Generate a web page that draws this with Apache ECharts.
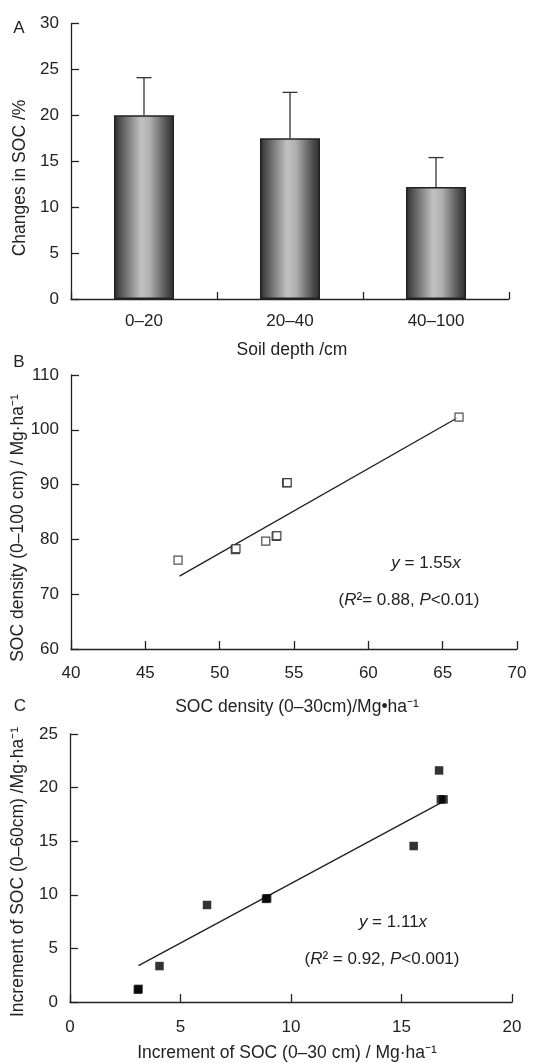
<!DOCTYPE html>
<html>
<head>
<meta charset="utf-8">
<script src="https://cdn.jsdelivr.net/npm/echarts@6/dist/echarts.min.js"></script>
<style>
html,body{margin:0;padding:0;background:#fff;}
#chart{width:551px;height:1063px;}
</style>
</head>
<body>
<div id="chart"></div>
<script>
// ---- Data ----
var depthCats = ['0–20', '20–40', '40–100'];
var socChange = [20.0, 17.5, 12.2];
var socChangeErr = [4.1, 5.0, 3.2];

var densityPoints = [
  [47.2, 76.2], [51.05, 78.15], [51.1, 78.3], [53.1, 79.7], [53.8, 80.55],
  [53.85, 80.7], [54.5, 90.3], [54.55, 90.35], [66.1, 102.3]
];
var densityFit = [[47.3, 73.3], [66.0, 102.2]];

var incrementPoints = [
  [3.07, 1.15], [3.1, 1.22], [4.05, 3.35], [6.2, 9.05], [8.87, 9.62],
  [8.92, 9.68], [15.55, 14.55], [16.7, 21.6], [16.78, 18.9], [16.9, 18.9]
];
var incrementFit = [[3.1, 3.4], [16.8, 18.6]];

// ---- Style ----
var FONT = "'Liberation Sans', Arial, sans-serif";
var INK = '#222';
var FS = 17;

function valueAxis(gridIndex, min, max, interval, margin) {
  return {
    type: 'value', gridIndex: gridIndex, min: min, max: max, interval: interval,
    axisLine: { show: true, lineStyle: { color: INK, width: 1.3 } },
    axisTick: { show: true, inside: true, length: 8, lineStyle: { color: INK, width: 1.3 } },
    axisLabel: { color: INK, fontSize: FS, fontFamily: FONT, margin: margin },
    splitLine: { show: false }
  };
}

function txt(text, x, y, opts) {
  opts = opts || {};
  var fs = opts.fontSize || FS;
  return {
    type: 'text', x: x, y: y, rotation: opts.rotation || 0, z: 100,
    style: {
      text: text, fill: INK, fontSize: fs, fontFamily: FONT,
      align: opts.align || 'center', verticalAlign: 'middle',
      rich: {
        i: { fontStyle: 'italic', fontSize: fs, fontFamily: FONT, fill: INK },
        n: { fontSize: fs, fontFamily: FONT, fill: INK }
      }
    }
  };
}

var chart = echarts.init(document.getElementById('chart'), null, { renderer: 'canvas' });

var option = {
  animation: false,
  backgroundColor: '#fff',
  grid: [
    { left: 71, right: 42, top: 23.5, bottom: 764 },
    { left: 71, right: 34, top: 375, bottom: 414 },
    { left: 70, right: 39, top: 734, bottom: 61 }
  ],
  xAxis: [
    {
      type: 'category', gridIndex: 0, data: depthCats, boundaryGap: true,
      axisLine: { show: true, lineStyle: { color: INK, width: 1.3 } },
      axisTick: { show: true, inside: true, length: 7, alignWithLabel: false, lineStyle: { color: INK, width: 1.3 } },
      axisLabel: { color: INK, fontSize: FS, fontFamily: FONT, margin: 14 },
      splitLine: { show: false }
    },
    valueAxis(1, 40, 70, 5, 16),
    valueAxis(2, 0, 20, 5, 17)
  ],
  yAxis: [
    valueAxis(0, 0, 30, 5, 12),
    valueAxis(1, 60, 110, 10, 12),
    valueAxis(2, 0, 25, 5, 12)
  ],
  series: [
    {
      type: 'bar', xAxisIndex: 0, yAxisIndex: 0, data: socChange, barWidth: 60,
      itemStyle: {
        color: new echarts.graphic.LinearGradient(0, 0, 1, 0, [
          { offset: 0, color: '#2e2e2e' },
          { offset: 0.12, color: '#575757' },
          { offset: 0.45, color: '#c2c2c2' },
          { offset: 0.6, color: '#b0b0b0' },
          { offset: 0.88, color: '#4e4e4e' },
          { offset: 1, color: '#2e2e2e' }
        ]),
        borderColor: '#222', borderWidth: 1.5
      },
      z: 2
    },
    {
      type: 'custom', xAxisIndex: 0, yAxisIndex: 0,
      data: socChange.map(function (v, i) { return [i, v, socChangeErr[i]]; }),
      renderItem: function (params, api) {
        var idx = api.value(0), v = api.value(1), e = api.value(2);
        var base = api.coord([idx, v]);
        var top = api.coord([idx, v + e]);
        var cap = 7.5;
        var st = { stroke: '#333', lineWidth: 1.3 };
        return {
          type: 'group', children: [
            { type: 'line', shape: { x1: base[0], y1: base[1], x2: top[0], y2: top[1] }, style: st },
            { type: 'line', shape: { x1: top[0] - cap, y1: top[1], x2: top[0] + cap, y2: top[1] }, style: st }
          ]
        };
      },
      z: 3
    },
    {
      type: 'scatter', xAxisIndex: 1, yAxisIndex: 1, data: densityPoints,
      symbol: 'rect', symbolSize: 8,
      itemStyle: { color: '#fff', borderColor: '#222', borderWidth: 1.2 },
      z: 3
    },
    {
      type: 'line', xAxisIndex: 1, yAxisIndex: 1, data: densityFit,
      symbol: 'none', lineStyle: { color: '#222', width: 1.4 }, z: 2
    },
    {
      type: 'scatter', xAxisIndex: 2, yAxisIndex: 2, data: incrementPoints,
      symbol: 'rect', symbolSize: 8.5,
      itemStyle: { color: '#000', borderColor: '#000', borderWidth: 0 },
      z: 3
    },
    {
      type: 'line', xAxisIndex: 2, yAxisIndex: 2, data: incrementFit,
      symbol: 'none', lineStyle: { color: '#222', width: 1.4 }, z: 2
    }
  ],
  graphic: [
    txt('A', 19, 28),
    txt('B', 19, 362),
    txt('C', 20, 706),
    txt('Changes in SOC /%', 20, 178, { rotation: Math.PI / 2, fontSize: 17.5 }),
    txt('SOC density (0–100 cm) / Mg·ha⁻¹', 18, 528, { rotation: Math.PI / 2, fontSize: 17.5 }),
    txt('Increment of SOC (0–60cm) /Mg·ha⁻¹', 18, 872, { rotation: Math.PI / 2, fontSize: 17.5 }),
    txt('Soil depth /cm', 292, 350, { fontSize: 17.5 }),
    txt('SOC density (0–30cm)/Mg•ha⁻¹', 297, 707, { fontSize: 17.5 }),
    txt('Increment of SOC (0–30 cm) / Mg·ha⁻¹', 287, 1053, { fontSize: 17.5 }),
    txt('{i|y}{n| = 1.55}{i|x}', 426, 563),
    txt('{n|(}{i|R}{n|²= 0.88, }{i|P}{n|<0.01)}', 409, 600),
    txt('{i|y}{n| = 1.11}{i|x}', 393, 922),
    txt('{n|(}{i|R}{n|² = 0.92, }{i|P}{n|<0.001)}', 382, 959)
  ]
};

chart.setOption(option);
</script>
</body>
</html>
